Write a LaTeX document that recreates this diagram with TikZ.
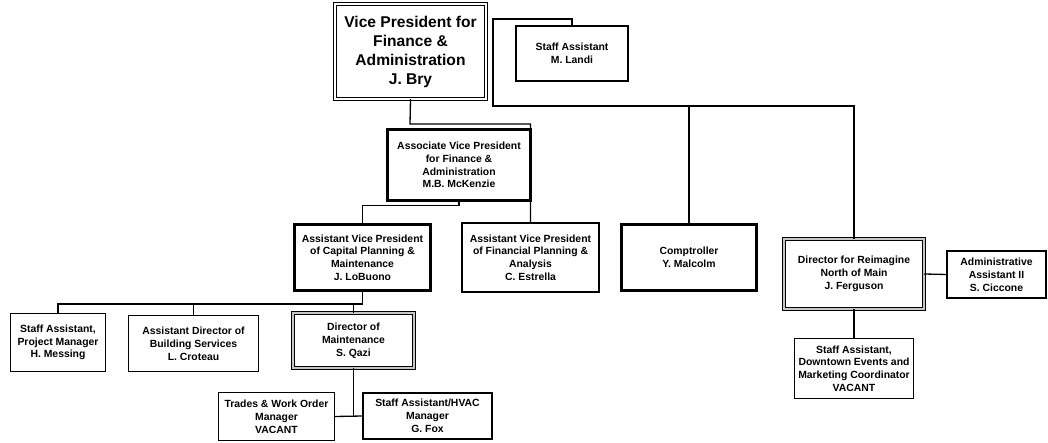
\documentclass[tikz,border=0pt]{standalone}
\usepackage{fontspec}
\setmainfont{Liberation Sans}
\begin{document}
\begin{tikzpicture}[x=1pt,y=-1pt,
  box/.style={draw=black, line width=1.2pt, fill=white, inner sep=1pt, outer sep=0pt,
    align=center, font=\fontsize{10.4}{12.8}\selectfont\bfseries},
  heavy/.style={box, line width=3pt},
  mid/.style={box, line width=2.2pt},
  dbl/.style={box, line width=0.9pt, double=gray!45, double distance=1.6pt},
  dblw/.style={box, line width=1pt, double=white, double distance=1.2pt},
  link/.style={draw=black, line width=1.3pt}]
\useasboundingbox (0,0) rectangle (1048,443);

% executive level
\node[dblw, minimum width=151, minimum height=95, font=\fontsize{15.6}{19}\selectfont\bfseries]
  (vp) at (410.5,51.5) {Vice President for\\Finance \&\\Administration\\J. Bry};
\node[box, minimum width=112, minimum height=55] (landi) at (572,53.5) {Staff Assistant\\M. Landi};

% second level
\node[heavy, minimum width=143, minimum height=71] (assoc) at (459,165)
  {Associate Vice President\\for Finance \&\\Administration\\M.B. McKenzie};
\node[heavy, minimum width=136, minimum height=66] (avpcap) at (362.5,257.5)
  {Assistant Vice President\\of Capital Planning \&\\Maintenance\\J. LoBuono};
\node[mid, minimum width=137, minimum height=69] (avpfin) at (530.5,257.5)
  {Assistant Vice President\\of Financial Planning \&\\Analysis\\C. Estrella};
\node[heavy, minimum width=135, minimum height=66] (comp) at (689,257.5) {Comptroller\\Y. Malcolm};
\node[dbl, minimum width=140, minimum height=70] (dirre) at (854,274)
  {Director for Reimagine\\North of Main\\J. Ferguson};
\node[mid, minimum width=99, minimum height=47] (admin) at (996.5,274.5)
  {Administrative\\Assistant II\\S. Ciccone};
\node[box, minimum width=119, minimum height=60] (downtown) at (854,368.5)
  {Staff Assistant,\\Downtown Events and\\Marketing Coordinator\\VACANT};

% capital planning staff
\node[box, minimum width=95, minimum height=58] (staffpm) at (58,342.5)
  {Staff Assistant,\\Project Manager\\H. Messing};
\node[box, minimum width=130, minimum height=56] (asstdir) at (193.5,343.5)
  {Assistant Director of\\Building Services\\L. Croteau};
\node[dbl, minimum width=121, minimum height=55] (dirmaint) at (353.5,340.5)
  {Director of\\Maintenance\\S. Qazi};
\node[box, minimum width=116, minimum height=48] (trades) at (276.5,416.5)
  {Trades \& Work Order\\Manager\\VACANT};
\node[mid, minimum width=129, minimum height=46] (hvac) at (427.5,416)
  {Staff Assistant/HVAC\\Manager\\G. Fox};

% reporting lines
\coordinate (tee) at (410,124);
\coordinate (bus) at (493,106);
\draw[link] (vp.south) -- (tee) -| (avpfin.north);
\draw[link] (landi.north) |- (493,19) -- (bus) -| (dirre.north);
\draw[link] (comp.north) -- (comp.north |- bus);
\draw[link] (assoc.south) -- ++(0,5) -| (avpcap.north);
\draw[link] (staffpm.north) |- (avpcap.south |- 0,304) -- (avpcap.south);
\draw[link] (asstdir.north) -- (asstdir.north |- 0,304);
\draw[link] (dirmaint.north) -- (dirmaint.north |- 0,304);
\draw[link] (dirmaint.south) -- (dirmaint.south |- trades.east);
\draw[link] (trades.east) -- (hvac.west);
\draw[link] (dirre.south) -- (downtown.north);
\draw[link] (dirre.east) -- (admin.west);
\end{tikzpicture}
\end{document}
